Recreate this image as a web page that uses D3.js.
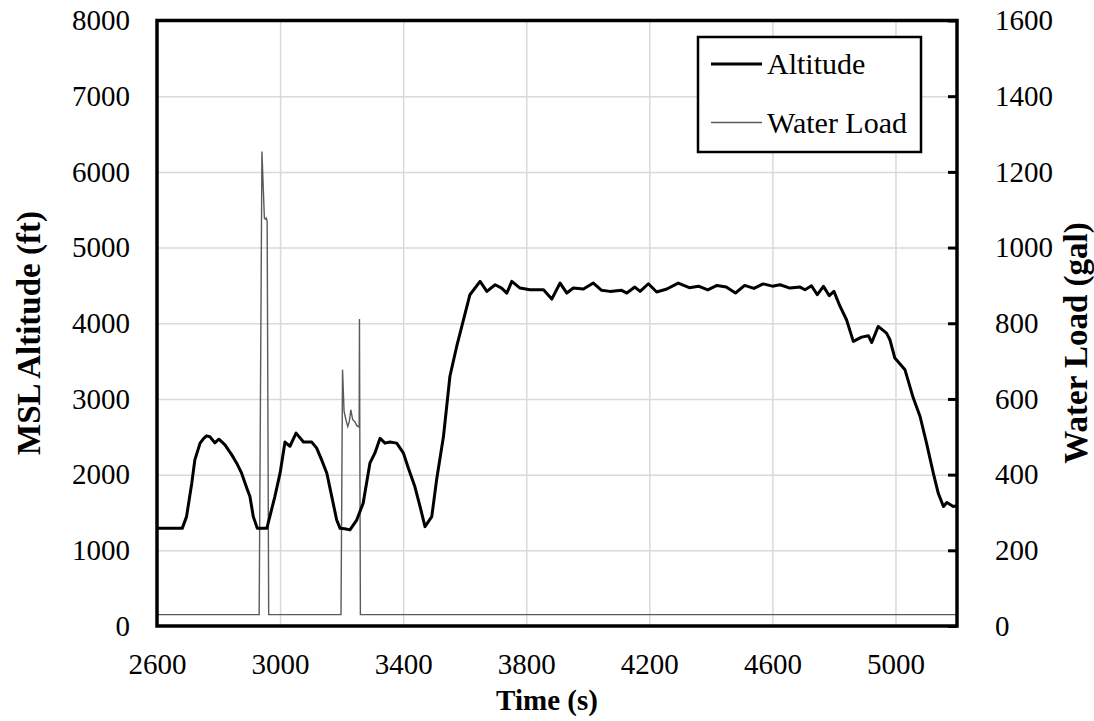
<!DOCTYPE html>
<html>
<head>
<meta charset="utf-8">
<script src="https://cdn.jsdelivr.net/npm/d3@7"></script>
<style>
    body { margin: 0; background: #fff; }
    svg { display: block; font-family: "Liberation Serif", "Times New Roman", serif; }
</style>
</head>
<body>
<svg id="chart" width="1094" height="721"></svg>
<script>
// altitude trace (time s, MSL ft)
var altTime = [2600, 2682, 2696, 2713, 2723, 2740, 2752, 2761, 2772, 2788, 2801, 2821, 2843, 2859, 2875,
    2892, 2902, 2913, 2926, 2957, 2983, 3000, 3016, 3032, 3052, 3076, 3103, 3119, 3135, 3152, 3168,
    3184, 3195, 3210, 3227, 3249, 3270, 3292, 3308, 3325, 3341, 3357, 3379, 3401, 3417, 3438, 3455,
    3471, 3493, 3509, 3531, 3552, 3574, 3596, 3617, 3650, 3672, 3699, 3720, 3737, 3753, 3780, 3812,
    3856, 3883, 3910, 3932, 3953, 3986, 4018, 4045, 4072, 4110, 4127, 4153, 4170, 4197, 4224, 4257,
    4294, 4330, 4360, 4390, 4420, 4450, 4480, 4510, 4540, 4570, 4600, 4625, 4657, 4690, 4706, 4727,
    4746, 4766, 4785, 4800, 4820, 4841, 4863, 4890, 4912, 4923, 4944, 4971, 4982, 4998, 5031, 5058,
    5080, 5101, 5123, 5139, 5156, 5167, 5188, 5200];
var altFeet = [1290, 1290, 1445, 1887, 2195, 2416, 2480, 2512, 2500, 2420, 2468, 2393, 2261, 2151, 2019,
    1821, 1710, 1445, 1290, 1290, 1710, 2019, 2430, 2375, 2548, 2430, 2430, 2350, 2195, 2019, 1710,
    1400, 1290, 1285, 1270, 1400, 1622, 2151, 2283, 2480, 2416, 2430, 2416, 2283, 2085, 1843, 1578,
    1313, 1445, 1940, 2503, 3300, 3693, 4046, 4377, 4553, 4421, 4509, 4465, 4399, 4553, 4465, 4443,
    4443, 4319, 4531, 4399, 4465, 4452, 4531, 4435, 4421, 4435, 4399, 4478, 4421, 4522, 4413, 4452,
    4531, 4470, 4490, 4440, 4500, 4480, 4400, 4500, 4460, 4520, 4490, 4509, 4465, 4478, 4443, 4496,
    4377, 4487, 4364, 4421, 4222, 4046, 3760, 3817, 3835, 3746, 3958, 3870, 3782, 3540, 3385, 3011,
    2768, 2416, 2019, 1755, 1578, 1631, 1578, 1590];

// water load trace (time s, gal)
var waterTime = [2600, 2932, 2941, 2949, 2952, 2955, 2958, 2963, 3198, 3203, 3208, 3214, 3220, 3225,
    3230, 3236, 3243, 3249, 3254, 3257, 3258, 3261, 5200];
var waterGal = [30, 30, 1254, 1078, 1075, 1078, 1070, 30, 30, 677, 567, 545, 527, 540,
    571, 545, 540, 530, 527, 525, 811, 30, 30];

var xTicks = [2600, 3000, 3400, 3800, 4200, 4600, 5000];
var leftTicks = [0, 1000, 2000, 3000, 4000, 5000, 6000, 7000, 8000];
var rightTicks = [0, 200, 400, 600, 800, 1000, 1200, 1400, 1600];
var seriesNames = ["Altitude", "Water Load"];

var svg = d3.select("#chart");
var margin = {top: 20.5, left: 157};
var w = 800, h = 605.5;
var g = svg.append("g").attr("transform", "translate(" + margin.left + "," + margin.top + ")");

var x = d3.scaleLinear().domain([2600, 5200]).range([0, w]);
var yL = d3.scaleLinear().domain([0, 8000]).range([h, 0]);
var yR = d3.scaleLinear().domain([0, 1600]).range([h, 0]);
var fmt = d3.format("d");

// gridlines
g.append("g")
    .attr("transform", "translate(0," + h + ")")
    .call(d3.axisBottom(x).tickValues(xTicks.slice(1)).tickSize(-h).tickFormat(""))
    .call(function (a) { a.select(".domain").remove(); })
    .selectAll("line").attr("stroke", "#d9d9d9").attr("stroke-width", 1.5);
g.append("g")
    .call(d3.axisLeft(yL).tickValues(leftTicks.slice(1, -1)).tickSize(-w).tickFormat(""))
    .call(function (a) { a.select(".domain").remove(); })
    .selectAll("line").attr("stroke", "#d9d9d9").attr("stroke-width", 1.5);

// tick labels
g.append("g")
    .call(d3.axisLeft(yL).tickValues(leftTicks).tickFormat(fmt).tickSize(0).tickPadding(27))
    .call(function (a) { a.select(".domain").remove(); })
    .selectAll("text").attr("font-size", "29px").attr("fill", "#000")
    .attr("font-family", "Liberation Serif, serif");
g.append("g")
    .attr("transform", "translate(" + w + ",0)")
    .call(d3.axisRight(yR).tickValues(rightTicks).tickFormat(fmt).tickSize(-9).tickPadding(38))
    .call(function (a) { a.select(".domain").remove(); })
    .call(function (a) {
        a.selectAll("line").attr("stroke", "#000").attr("stroke-width", 3);
        a.selectAll("text").attr("font-size", "29px").attr("fill", "#000")
            .attr("font-family", "Liberation Serif, serif");
    });
g.append("g")
    .attr("transform", "translate(0," + h + ")")
    .call(d3.axisBottom(x).tickValues(xTicks).tickFormat(fmt).tickSize(0).tickPadding(27))
    .call(function (a) { a.select(".domain").remove(); })
    .selectAll("text").attr("font-size", "29px").attr("fill", "#000")
    .attr("font-family", "Liberation Serif, serif");

// series
var waterLine = d3.line()
    .x(function (d, i) { return x(waterTime[i]); })
    .y(function (d) { return yR(d); });
g.append("path")
    .datum(waterGal)
    .attr("d", waterLine)
    .attr("fill", "none")
    .attr("stroke", "#5a5a5a")
    .attr("stroke-width", 1.4);

var altLine = d3.line()
    .x(function (d, i) { return x(altTime[i]); })
    .y(function (d) { return yL(d); });
g.append("path")
    .datum(altFeet)
    .attr("d", altLine)
    .attr("fill", "none")
    .attr("stroke", "#000")
    .attr("stroke-width", 3)
    .attr("stroke-linejoin", "round");

// plot frame
g.append("rect")
    .attr("width", w).attr("height", h)
    .attr("fill", "none").attr("stroke", "#000").attr("stroke-width", 3.5);

// legend
var legend = svg.append("g");
legend.append("rect")
    .attr("x", 698).attr("y", 37).attr("width", 223).attr("height", 115)
    .attr("fill", "#fff").attr("stroke", "#000").attr("stroke-width", 2.5);
var items = legend.selectAll("g.item")
    .data(seriesNames)
    .enter()
    .append("g")
    .attr("transform", function (d, i) { return "translate(0," + (64 + i * 58.5) + ")"; });
items.append("line")
    .attr("x1", 711).attr("x2", 762)
    .attr("stroke", function (d, i) { return i === 0 ? "#000" : "#5a5a5a"; })
    .attr("stroke-width", function (d, i) { return i === 0 ? 3 : 1.4; });
items.append("text")
    .attr("x", 767).attr("y", 10)
    .attr("font-size", "30px")
    .text(function (d) { return d; });

// axis titles
svg.append("text")
    .attr("x", 547).attr("y", 710)
    .attr("text-anchor", "middle")
    .attr("font-size", "29px").attr("font-weight", "bold")
    .text("Time (s)");
svg.append("text")
    .attr("transform", "translate(40,333) rotate(-90)")
    .attr("text-anchor", "middle")
    .attr("font-size", "33px").attr("font-weight", "bold")
    .text("MSL Altitude (ft)");
svg.append("text")
    .attr("transform", "translate(1087,343) rotate(-90)")
    .attr("text-anchor", "middle")
    .attr("font-size", "33px").attr("font-weight", "bold")
    .text("Water Load (gal)");
</script>
</body>
</html>
